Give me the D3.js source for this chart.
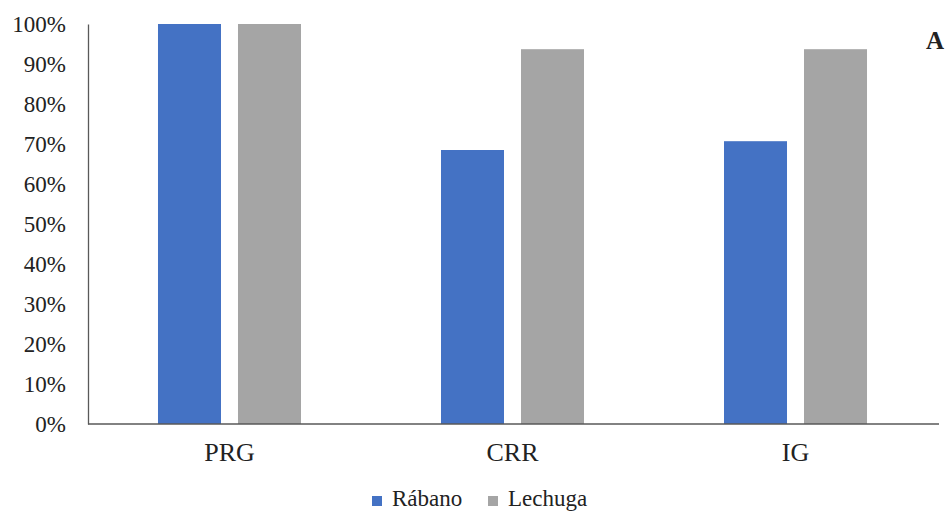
<!DOCTYPE html>
<html><head><meta charset="utf-8">
<script src="https://cdn.jsdelivr.net/npm/d3@7"></script>
<style>body{margin:0;background:#fff}svg{display:block}svg text{font-family:'Liberation Serif','Times New Roman','DejaVu Serif',serif !important;fill:#222}</style>
</head><body><svg id="c" width="946" height="512"></svg>
<script>
const categories = ["PRG", "CRR", "IG"];
const seriesNames = ["Rábano", "Lechuga"];
const rabano = [100, 68.5, 70.7];
const lechuga = [100, 93.7, 93.7];
const yTicks = [0, 10, 20, 30, 40, 50, 60, 70, 80, 90, 100];
const colors = ["#4472C4", "#A5A5A5"];

const svg = d3.select("#c");
const m = {left: 88, right: 937, top: 24, bottom: 424};
const x = d3.scaleBand().domain(categories).range([m.left, m.right]).paddingInner(0.4947).paddingOuter(0.2473);
const x1 = d3.scaleBand().domain(seriesNames).range([0, x.bandwidth()]).paddingInner(0.2125);
const y = d3.scaleLinear().domain([0, 100]).range([m.bottom, m.top]);

const data = categories.map((c, i) => ({c, vals: [rabano[i], lechuga[i]]}));
const g = svg.append("g");
g.selectAll("g.grp").data(data).join("g").attr("transform", d => `translate(${x(d.c)},0)`)
  .selectAll("rect").data(d => d.vals.map((v, j) => ({v, s: seriesNames[j], j})))
  .join("rect")
  .attr("x", d => x1(d.s)).attr("width", x1.bandwidth())
  .attr("y", d => y(d.v)).attr("height", d => y(0) - y(d.v))
  .attr("fill", d => colors[d.j]);

const yAx = svg.append("g").attr("transform", `translate(${m.left},0)`)
  .call(d3.axisLeft(y).tickValues(yTicks).tickFormat(d => d + "%").tickSize(0).tickPadding(22));
yAx.attr("font-family", null);
yAx.select(".domain").attr("stroke", "#595959").attr("stroke-width", 1.3);
yAx.selectAll("text").attr("font-size", 23).attr("fill", "#222");

const xAx = svg.append("g").attr("transform", `translate(0,${m.bottom})`)
  .call(d3.axisBottom(x).tickSize(0).tickPadding(19));
xAx.attr("font-family", null);
xAx.select(".domain").attr("stroke", "#595959").attr("stroke-width", 1.3).attr("d", `M${m.left},0H${m.right + 2}`);
xAx.selectAll("text").attr("font-size", 26).attr("fill", "#222");

svg.append("text").attr("x", 944).attr("y", 49).attr("text-anchor", "end")
  .attr("font-size", 25).attr("font-weight", "bold").attr("fill", "#000").text("A");

const legX = [372, 488];
const leg = svg.append("g");
seriesNames.forEach((s, i) => {
  leg.append("rect").attr("x", legX[i]).attr("y", 496).attr("width", 10).attr("height", 10).attr("fill", colors[i]);
  leg.append("text").attr("x", legX[i] + 20).attr("y", 506).attr("font-size", 23).text(s);
});
</script></body></html>
